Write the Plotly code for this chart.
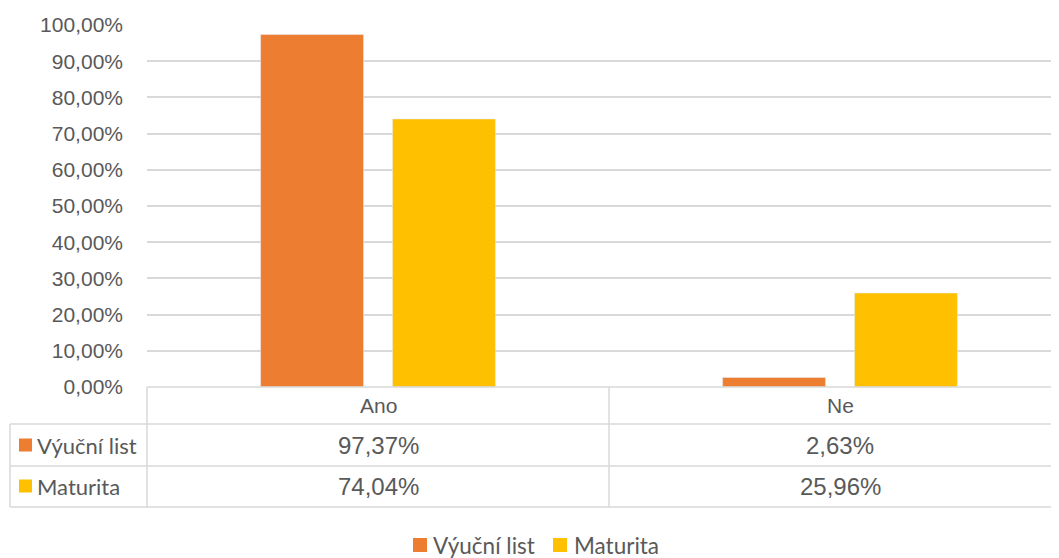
import plotly.graph_objects as go

categories = ["Ano", "Ne"]
vyucni_list = [0.9737, 0.0263]
maturita = [0.7404, 0.2596]
series_names = ["Výuční list", "Maturita"]
colors = ["#ED7D31", "#FFC000"]

# the page body keeps its default 8px margin, so the figure is drawn 8px in
OFF = 8
W, H = 1059 - OFF, 558 - OFF
GRID = "#D9D9D9"
TXT = "#595959"


def py(y):
    # screen pixel row -> paper y
    return 1 - (y - OFF) / H


def px_(x):
    # screen pixel column -> paper x
    return (x - OFF) / W


fig = go.Figure()
for name, vals, col in zip(series_names, [vyucni_list, maturita], colors):
    fig.add_trace(go.Bar(x=categories, y=vals, name=name, marker_color=col))

shapes = []
line = dict(color=GRID, width=1.5)
# table horizontal lines
shapes.append(dict(type="line", xref="paper", yref="paper", x0=px_(147), x1=1,
                   y0=py(387), y1=py(387), line=line))
for yy in (424, 466, 507):
    shapes.append(dict(type="line", xref="paper", yref="paper", x0=px_(10), x1=1,
                       y0=py(yy), y1=py(yy), line=line))
# table vertical lines
shapes.append(dict(type="line", xref="paper", yref="paper", x0=px_(10), x1=px_(10),
                   y0=py(424), y1=py(507), line=line))
shapes.append(dict(type="line", xref="paper", yref="paper", x0=px_(147), x1=px_(147),
                   y0=py(387), y1=py(507), line=line))
shapes.append(dict(type="line", xref="x", yref="paper", x0=0.5, x1=0.5,
                   y0=py(387), y1=py(507), line=line))

annotations = []
# header row
for c in categories:
    annotations.append(dict(x=c, xref="x", y=py(405.5), yref="paper", text=c,
                            xanchor="center", yanchor="middle", showarrow=False,
                            font=dict(size=21, color=TXT)))
# value rows with series keys
row_y = [445, 486]
for vals, name, col, ry in zip([vyucni_list, maturita], series_names, colors, row_y):
    for c, v in zip(categories, vals):
        annotations.append(dict(x=c, xref="x", y=py(ry), yref="paper",
                                text=f"{v * 100:.2f}%".replace(".", ","),
                                xanchor="center", yanchor="middle", showarrow=False,
                                font=dict(size=24, color=TXT)))
    shapes.append(dict(type="rect", xref="paper", yref="paper",
                       x0=px_(19), x1=px_(32), y0=py(ry - 6.5), y1=py(ry + 6.5),
                       fillcolor=col, line=dict(width=0)))
    annotations.append(dict(x=px_(35), xref="paper", y=py(ry), yref="paper",
                            xanchor="left", yanchor="middle", text=name, showarrow=False,
                            font=dict(size=22, color=TXT, family="Lato")))

# bottom legend
leg_x = [(413, 431), (553, 572)]
for (sx, tx), name, col in zip(leg_x, series_names, colors):
    shapes.append(dict(type="rect", xref="paper", yref="paper",
                       x0=px_(sx), x1=px_(sx + 14), y0=py(552), y1=py(538),
                       fillcolor=col, line=dict(width=0)))
    annotations.append(dict(x=px_(tx), xref="paper", y=py(545), yref="paper",
                            xanchor="left", yanchor="middle", text=name, showarrow=False,
                            font=dict(size=22.5, color=TXT, family="Lato")))

fig.update_layout(
    width=W, height=H,
    margin=dict(l=0, r=0, t=0, b=0),
    paper_bgcolor="white", plot_bgcolor="white",
    font=dict(family="Liberation Sans", color=TXT),
    separators=",.",
    showlegend=False,
    barmode="group", bargap=0.429, bargroupgap=0.22,
    xaxis=dict(domain=[px_(147), 1], range=[-0.5, 1.474], showticklabels=False,
               showgrid=False, zeroline=False, showline=False, automargin=False),
    yaxis=dict(domain=[py(387), py(25)], range=[0, 1], dtick=0.1, tickformat=".2%",
               gridcolor=GRID, gridwidth=1.5, zeroline=False, showline=False,
               automargin=False, ticklabelstandoff=23,
               tickfont=dict(size=21, color=TXT)),
    shapes=shapes,
    annotations=annotations,
)

fig.write_html("out.html")
